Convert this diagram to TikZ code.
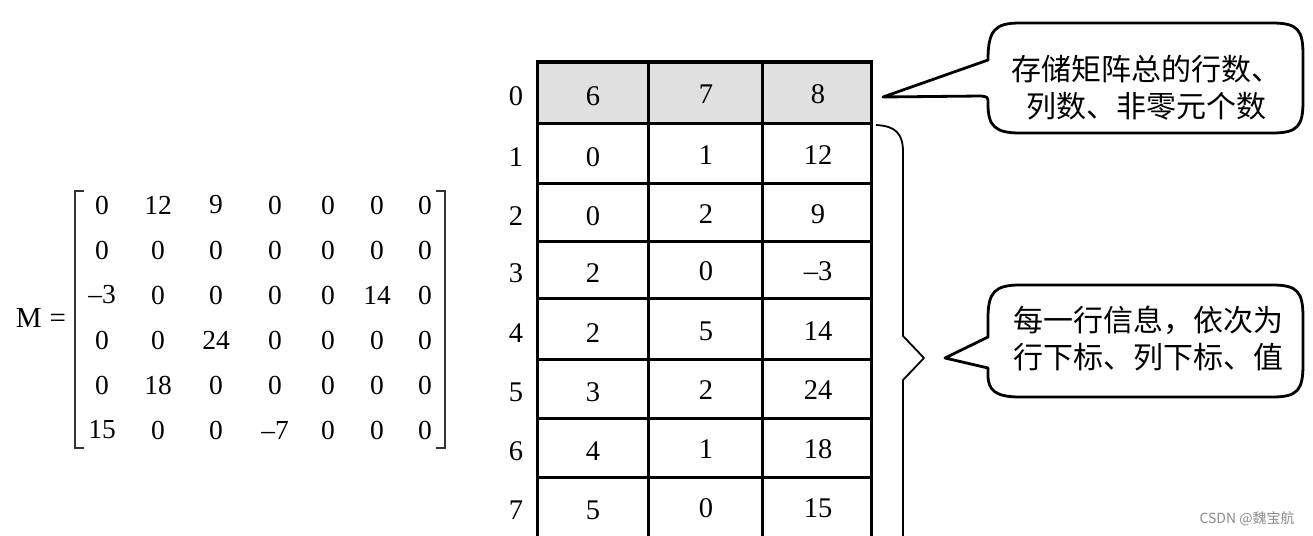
\documentclass[tikz,border=0pt]{standalone}
\usepackage{fontspec}
\setmainfont{Liberation Serif}
\newfontfamily\cjk{Noto Sans CJK SC}
\definecolor{hdrgray}{HTML}{E0E0E0}
\definecolor{brk}{HTML}{333333}
\begin{document}
\begin{tikzpicture}[x=1pt,y=-1pt,
  mat/.style={font=\fontsize{27.5}{30}\selectfont, inner sep=0pt},
  cell/.style={font=\fontsize{28.5}{30}\selectfont, inner sep=0pt},
  idx/.style={font=\fontsize{28.5}{30}\selectfont, inner sep=0pt},
  grid/.style={line width=3pt, black},
  callout/.style={line width=2.8pt, black, line join=round, fill=white},
  ctext/.style={font=\cjk\fontsize{30}{37}\selectfont, align=center, inner sep=0pt},
  wmark/.style={font=\cjk\fontsize{14}{16}\selectfont, text=black!45, inner sep=0pt}
]
\useasboundingbox (0,0) rectangle (1313,535);
\clip (0,0) rectangle (1313,535);

% ---------- matrix ----------
\node[mat, font=\fontsize{29}{30}\selectfont] (Mlab) at (41,318) {M\;=};
\draw[brk, line width=2pt] (84,191) -- (75,191) -- (75,448) -- (84,448);
\draw[brk, line width=2pt] (436,191) -- (445,191) -- (445,448) -- (436,448);
\foreach \r/\y/\vals in {1/205/{0,12,9,0,0,0,0},
                          2/250/{0,0,0,0,0,0,0},
                          3/295/{\textendash3,0,0,0,0,14,0},
                          4/340/{0,0,24,0,0,0,0},
                          5/385/{0,18,0,0,0,0,0},
                          6/430/{15,0,0,\textendash7,0,0,0}}{
  \foreach \v [count=\c] in \vals {
    \pgfmathsetmacro{\xx}{{102,158,216,275,328,377,425}[\c-1]}
    \node[mat] (m-\r-\c) at (\xx,\y) {\v};
  }
}

% ---------- table ----------
\fill[hdrgray] (537,62) rectangle (871,123);
\foreach \yy in {62,123,183,241,298,359,418,477}
  \draw[grid] (537,\yy) -- (871,\yy);
\foreach \xx in {537,648,762,871}
  \draw[grid] (\xx,60.5) -- (\xx,540);

\foreach \r/\y/\a/\b/\cc in {0/94/6/7/8,
                             1/155/0/1/12,
                             2/214/0/2/9,
                             3/271/2/0/\textendash3,
                             4/331/2/5/14,
                             5/390/3/2/24,
                             6/449/4/1/18,
                             7/508/5/0/15}{
  \node[idx] (i-\r) at (516,\y+2) {\r};
  \node[cell] (t-\r-1) at (593,\y+2) {\a};
  \node[cell] (t-\r-2) at (706,\y) {\b};
  \node[cell] (t-\r-3) at (818,\y) {\cc};
}

% ---------- brace ----------
\draw[line width=1.8pt, line join=round] (876,125) .. controls (896,126) and (903,134) .. (903,152)
  -- (903,336) -- (924,358) -- (903,380) -- (903,560);

% ---------- callout 1 ----------
\draw[callout] (883,97) -- (988,60)
  .. controls (988,30) and (995,23) .. (1020,23) -- (1272,23)
  .. controls (1298,23) and (1303,30) .. (1303,55) -- (1303,101)
  .. controls (1303,126) and (1298,133) .. (1272,133) -- (1020,133)
  .. controls (995,133) and (988,126) .. (988,104)
  .. controls (988,97) .. (981,96) -- cycle;
\node[ctext] (note1) at (1146,88) {存储矩阵总的行数、\\列数、非零元个数};

% ---------- callout 2 ----------
\draw[callout] (945,358) -- (988,337) -- (988,318)
  .. controls (988,292) and (995,285) .. (1020,285) -- (1272,285)
  .. controls (1298,285) and (1303,292) .. (1303,318) -- (1303,364)
  .. controls (1303,390) and (1298,397) .. (1272,397) -- (1020,397)
  .. controls (995,397) and (988,390) .. (988,375) -- (988,368) -- cycle;
\node[ctext] (note2) at (1148,339) {每一行信息，依次为\\行下标、列下标、值};

% ---------- watermark ----------
\node[wmark] (wm) at (1247,519) {CSDN @魏宝航};
\end{tikzpicture}
\end{document}
